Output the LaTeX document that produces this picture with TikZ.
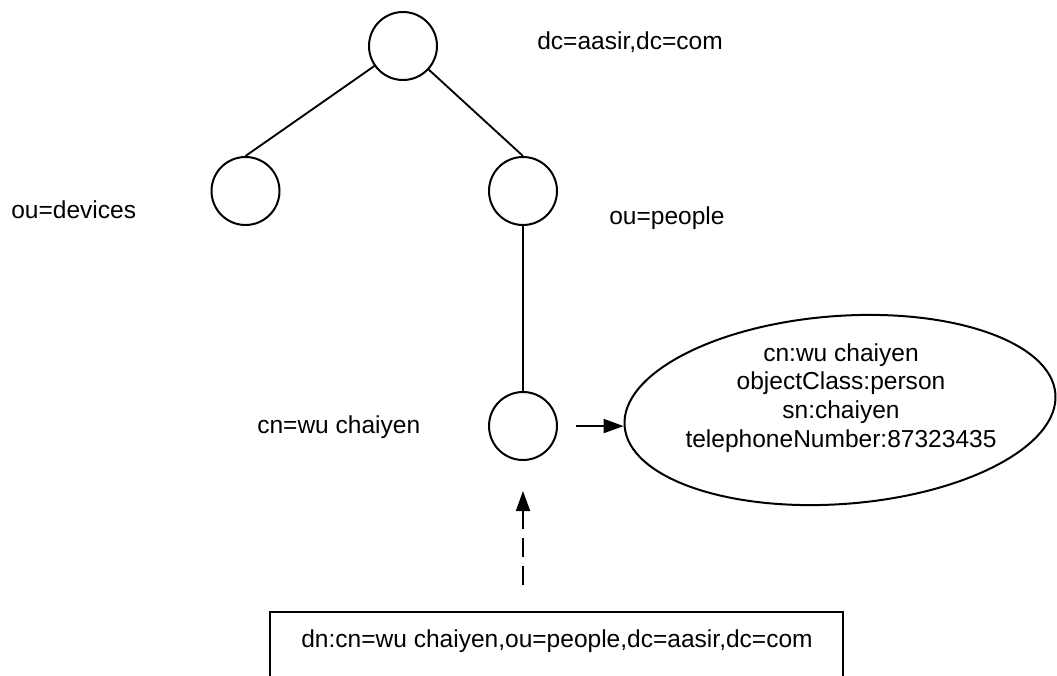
\documentclass[tikz,border=0pt]{standalone}
\usepackage{fontspec}
\setmainfont{Liberation Sans}
\usetikzlibrary{arrows.meta,shapes.geometric}
\begin{document}
\begin{tikzpicture}[x=0.75pt,y=-0.75pt,
  every node/.style={font=\fontsize{18.4pt}{21.6pt}\selectfont},
  treenode/.style={circle,draw,line width=1.5pt,minimum size=51pt,inner sep=0pt},
  lbl/.style={anchor=west,inner sep=0pt},
  edge/.style={line width=1.4pt},
  arr/.style={line width=1.4pt,-{Triangle[length=15pt,width=10.5pt]}},
  attrshape/.style={ellipse,draw,line width=1.5pt,minimum width=324pt,minimum height=141pt,inner sep=0pt},
  boxst/.style={draw,line width=1.2pt,minimum width=430pt,minimum height=75pt,inner sep=0pt}]
\useasboundingbox (0,0) rectangle (1057,675);
\clip (0,0) rectangle (1057,675);
\fill[white] (0,0) rectangle (1057,675);
% tree nodes
\node[treenode] (root) at (403,46) {};
\node[treenode] (dev) at (245.5,191) {};
\node[treenode] (ppl) at (523,191) {};
\node[treenode] (cn) at (523,426) {};
% labels
\node[lbl] (lroot) at (537,42) {dc=aasir,dc=com};
\node[lbl] (ldev) at (11,210) {ou=devices};
\node[lbl] (lppl) at (609,218) {ou=people};
\node[lbl] (lcn) at (257,427) {cn=wu chaiyen};
% edges
\draw[edge] (root) -- (dev.north);
\draw[edge] (root) -- (ppl.north);
\draw[edge] (ppl) -- (cn);
% attribute ellipse
\node[attrshape,rotate=4.25] (attr) at (840,410) {};
\node[align=center,inner sep=0pt] (attrtext) at (841,398) {cn:wu chaiyen\\objectClass:person\\sn:chaiyen\\telephoneNumber:87323435};
\draw[arr,shorten <=13.5pt] (cn.east) -- (attr.west);
% dn box
\node[boxst,anchor=north] (dnbox) at (556.5,611) {};
\node[inner sep=0pt] (dn) at (557,641) {dn:cn=wu chaiyen,ou=people,dc=aasir,dc=com};
\draw[arr,dash pattern=on 14pt off 7pt,shorten <=19.5pt,shorten >=22.5pt] (dnbox.north -| cn) -- (cn.south);
\end{tikzpicture}
\end{document}
